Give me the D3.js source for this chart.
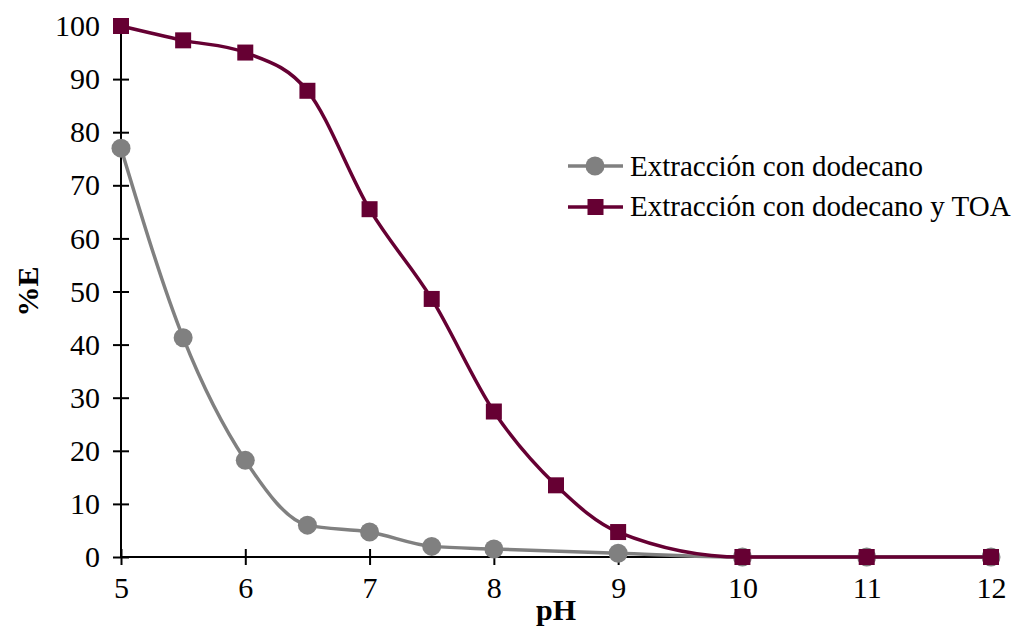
<!DOCTYPE html>
<html>
<head>
<meta charset="utf-8">
<script src="https://cdn.jsdelivr.net/npm/d3@7"></script>
<style>
  body { margin: 0; background: #fff; }
  svg text { font-family: "Liberation Serif", "Times New Roman", serif !important; }
</style>
</head>
<body>
<div id="chart"></div>
<script>
// data
var phDodecano = [5, 5.5, 6, 6.5, 7, 7.5, 8, 9, 10, 11, 12];
var eDodecano  = [77, 41.3, 18.2, 6, 4.7, 2, 1.5, 0.7, 0, 0, 0];
var phToa = [5, 5.5, 6, 6.5, 7, 7.5, 8, 8.5, 9, 10, 11, 12];
var eToa  = [100, 97.3, 95, 87.8, 65.5, 48.6, 27.4, 13.5, 4.7, 0, 0, 0];
var xTicks = [5, 6, 7, 8, 9, 10, 11, 12];
var yTicks = [0, 10, 20, 30, 40, 50, 60, 70, 80, 90, 100];
var seriesNames = ["Extracción con dodecano", "Extracción con dodecano y TOA"];

var W = 1017, H = 638;
var serif = "Liberation Serif, Times New Roman, serif";
var margin = {top: 26, right: 26, bottom: 81, left: 121},
    width = W - margin.left - margin.right,
    height = H - margin.top - margin.bottom;

var svg = d3.select("#chart")
  .append("svg")
    .attr("width", W)
    .attr("height", H)
    .attr("font-family", serif);

var g = svg.append("g")
    .attr("transform", "translate(" + margin.left + "," + margin.top + ")");

var x = d3.scaleLinear().domain([5, 12]).range([0, width]);
var y = d3.scaleLinear().domain([0, 100]).range([height, 0]);

// Y axis, ticks cross the line
var yAxis = g.append("g")
    .call(d3.axisLeft(y).tickValues(yTicks).tickFormat(d3.format("d")).tickSize(8).tickPadding(12))
    .attr("font-family", serif);
yAxis.selectAll(".tick line").attr("x2", 8).attr("x1", -8).attr("stroke", "#000").attr("stroke-width", 2);
yAxis.select(".domain").attr("stroke", "#000").attr("stroke-width", 2).attr("d", "M0," + height + "V0");
yAxis.selectAll("text")
    .style("font-size", "30px")
    .attr("fill", "#000")
    .attr("x", -21);

// X axis
var xAxis = g.append("g")
    .attr("transform", "translate(0," + height + ")")
    .call(d3.axisBottom(x).tickValues(xTicks).tickFormat(d3.format("d")).tickSize(8).tickPadding(12))
    .attr("font-family", serif);
xAxis.selectAll(".tick line").attr("y1", -8).attr("y2", 8).attr("stroke", "#000").attr("stroke-width", 2);
xAxis.select(".domain").attr("stroke", "#000").attr("stroke-width", 2).attr("d", "M0,0H" + width);
xAxis.selectAll("text")
    .style("font-size", "30px")
    .attr("fill", "#000");

// axis titles
svg.append("text")
    .attr("x", margin.left + width / 2)
    .attr("y", 620)
    .attr("text-anchor", "middle")
    .style("font-size", "30px")
    .style("font-weight", "bold")
    .text("pH");

svg.append("text")
    .attr("transform", "translate(38," + (margin.top + y(50)) + ") rotate(-90)")
    .attr("text-anchor", "middle")
    .style("font-size", "30px")
    .style("font-weight", "bold")
    .text("%E");

var gray = "#808080", maroon = "#660033";

var line = d3.line()
    .x(function(d) { return x(d[0]); })
    .y(function(d) { return y(d[1]); })
    .curve(d3.curveMonotoneX);

var dataDod = phDodecano.map(function(p, i) { return [p, eDodecano[i]]; });
var dataToa = phToa.map(function(p, i) { return [p, eToa[i]]; });

g.append("path")
    .datum(dataDod)
    .attr("fill", "none")
    .attr("stroke", gray)
    .attr("stroke-width", 3.5)
    .attr("d", line);

g.selectAll(".dot")
    .data(dataDod)
    .enter().append("circle")
    .attr("cx", function(d) { return x(d[0]); })
    .attr("cy", function(d) { return y(d[1]); })
    .attr("r", 9.5)
    .attr("fill", gray);

g.append("path")
    .datum(dataToa)
    .attr("fill", "none")
    .attr("stroke", maroon)
    .attr("stroke-width", 3.5)
    .attr("d", line);

g.selectAll(".sq")
    .data(dataToa)
    .enter().append("rect")
    .attr("x", function(d) { return x(d[0]) - 8; })
    .attr("y", function(d) { return y(d[1]) - 8; })
    .attr("width", 16)
    .attr("height", 16)
    .attr("fill", maroon);

// legend
var legendRows = [166, 207];
var legend = svg.append("g").attr("transform", "translate(568,0)");
[gray, maroon].forEach(function(c, i) {
  var row = legend.append("g").attr("transform", "translate(0," + legendRows[i] + ")");
  row.append("line").attr("x1", 0).attr("x2", 55).attr("stroke", c).attr("stroke-width", 3.5);
  if (i === 0) {
    row.append("circle").attr("cx", 27).attr("r", 9.5).attr("fill", c);
  } else {
    row.append("rect").attr("x", 19.5).attr("y", -8).attr("width", 16).attr("height", 16).attr("fill", c);
  }
  row.append("text")
    .attr("x", 62)
    .attr("y", i === 0 ? 10 : 9)
    .style("font-size", "29px")
    .text(seriesNames[i]);
});
</script>
</body>
</html>
